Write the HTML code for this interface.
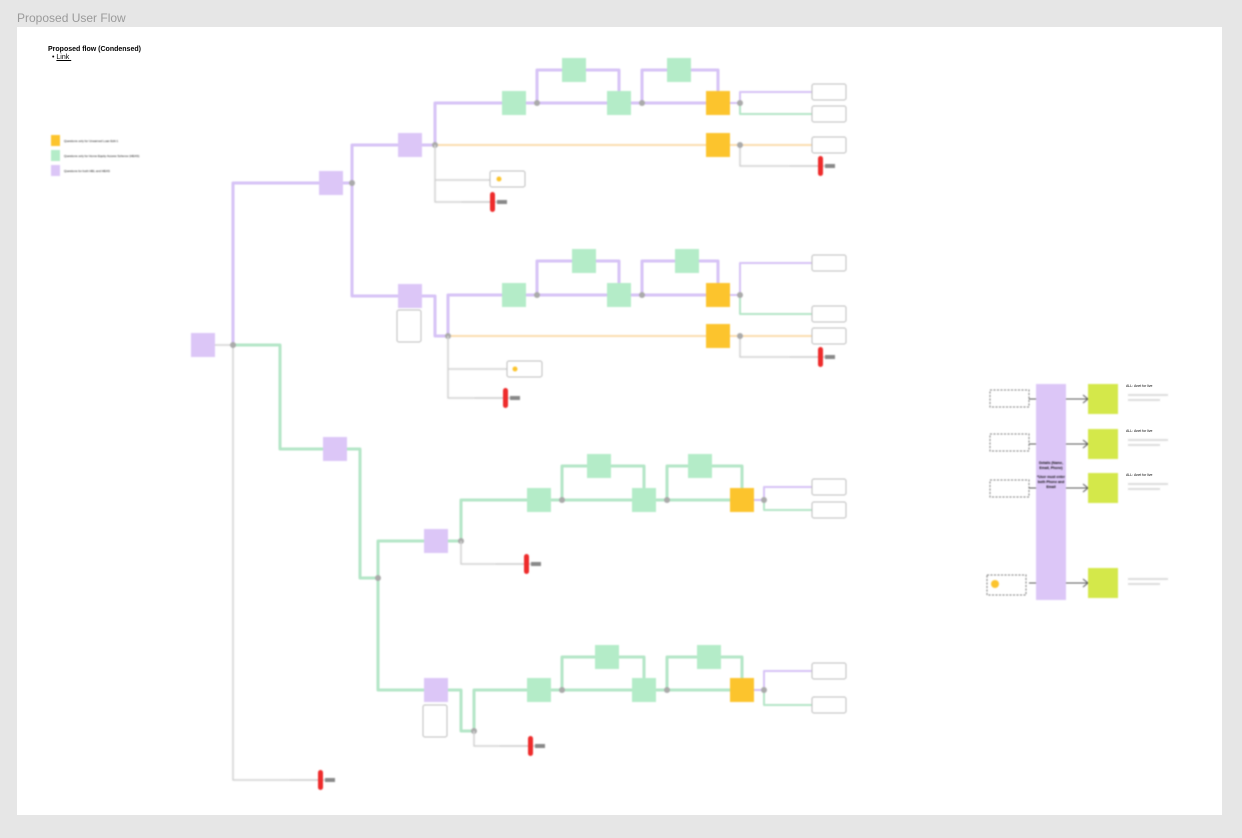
<!DOCTYPE html>
<html><head><meta charset="utf-8"><style>
html,body{margin:0;padding:0;background:#e6e6e6;width:1242px;height:838px;overflow:hidden;font-family:"Liberation Sans",sans-serif}
#title{position:absolute;left:17px;top:11px;font-size:12px;color:#9a9a9a}
#panel{position:absolute;left:17px;top:27px;width:1205px;height:788px;background:#fff}
svg{position:absolute;left:0;top:0;filter:blur(0.8px)}
.t{font-family:"Liberation Sans",sans-serif}
</style></head><body>
<div id="title">Proposed User Flow</div>
<div id="panel"></div>
<div style="position:absolute;left:48px;top:46px;font-size:7px;font-weight:bold">Proposed flow (Condensed)</div>
<div style="position:absolute;left:52px;top:54px;font-size:7px">•&nbsp;<u>Link&nbsp;</u></div>
<svg id="s" width="1242" height="838" xmlns="http://www.w3.org/2000/svg">
<rect x="51" y="135" width="9" height="11" fill="#fcc42d"/>
<rect x="51" y="150" width="9" height="11" fill="#b4ecc8"/>
<rect x="51" y="165" width="9" height="11" fill="#dcc6f7"/>
<text class="t" x="64" y="142" font-size="3">Questions only for Unearned Loan Edit 1</text>
<text class="t" x="64" y="157" font-size="3">Questions only for Home Equity Access Scheme (HEAS)</text>
<text class="t" x="64" y="172" font-size="3">Questions for both HEL and HEAS</text>
<g id="g"></g>
<rect x="1036" y="384" width="30" height="216" fill="#dcc6f7"/>
<text class="t" x="1051" y="464" font-size="3.5" text-anchor="middle" font-weight="bold">Details (Name,</text>
<text class="t" x="1051" y="469" font-size="3.5" text-anchor="middle" font-weight="bold">Email, Phone)</text>
<text class="t" x="1051" y="478" font-size="3.5" text-anchor="middle" font-weight="bold">*User must enter</text>
<text class="t" x="1051" y="483" font-size="3.5" text-anchor="middle" font-weight="bold">both Phone and</text>
<text class="t" x="1051" y="488" font-size="3.5" text-anchor="middle" font-weight="bold">Email</text>
</svg>
<script>
const g=document.getElementById('g');let h='';
const P='#d6c2f6',G='#b3e6c6',O='#fbdcae',Y='#fcc42d',GR='#d2d2d2';
function L(pts,c,w){h+=`<polyline points="${pts}" fill="none" stroke="${c}" stroke-width="${w||2.5}" stroke-linejoin="round"/>`;}
function R(x,y,c,w,hh){h+=`<rect x="${x}" y="${y}" width="${w||24}" height="${hh||24}" fill="${c}"/>`;}
function B(x,y,w,hh,st){h+=`<rect x="${x}" y="${y}" width="${w||34}" height="${hh||16}" rx="2" fill="#fff" stroke="${st||'#bbb'}" stroke-width="1"/>`;}
function D(x,y){h+=`<circle cx="${x}" cy="${y}" r="3" fill="#aaa"/>`;}
function X(x,y){L(`${x-30},${y} ${x+14},${y}`,GR,1.5);h+=`<rect x="${x-2}" y="${y-10}" width="5" height="20" rx="2.5" fill="#ee2b2b"/><rect x="${x+5}" y="${y-2}" width="10" height="4" fill="#888"/>`;}
// root
L('233,345 233,183 319,183',P,3);L('215,345 233,345',GR,1.5);L('233,345 233,780 318,780',GR,1.5);
L('233,345 280,345 280,449 323,449',G,3);
R(191,333,'#dcc6f7');D(233,345);X(320,780);
L('343,183 352,183 352,145 398,145',P,3);L('352,183 352,296 398,296',P,3);
R(319,171,'#dcc6f7');D(352,183);
function blk(o){
 const {sx,sy,jx,jy,my,ty,n,c,o1,o2,ox}=o;
 if(jy==sy) L(`${sx+24},${sy} ${jx},${sy}`,c,3);
 else L(`${sx+24},${sy} ${jx-13},${sy} ${jx-13},${jy} ${jx},${jy}`,c,3);
 L(`${jx},${jy} ${jx},${my} ${n[0]},${my}`,c,3);
 const [a,b,cc,d,y]=n;
 L(`${a+24},${my} ${y},${my}`,c,3);
 L(`${a+35},${my} ${a+35},${ty} ${b},${ty}`,c,3);L(`${b+24},${ty} ${cc+12},${ty} ${cc+12},${my-12}`,c,3);
 L(`${cc+35},${my} ${cc+35},${ty} ${d},${ty}`,c,3);L(`${d+24},${ty} ${y+12},${ty} ${y+12},${my-12}`,c,3);
 R(a,my-12,'#b4ecc8');R(b,ty-12,'#b4ecc8');R(cc,my-12,'#b4ecc8');R(d,ty-12,'#b4ecc8');R(y,my-12,Y);
 D(a+35,my);D(cc+35,my);
 const ex=y+34;
 L(`${y+24},${my} ${ex},${my} ${ex},${o1} 812,${o1}`,P,2);
 L(`${ex},${my} ${ex},${o2} 812,${o2}`,G,2);D(ex,my);
 B(812,o1-8);B(812,o2-8);
 if(ox){L(`${jx},${jy} 706,${jy}`,O,2);R(706,jy-12,Y);L(`730,${jy} 812,${jy}`,O,2);B(812,jy-8);
  L(`740,${jy} 740,${jy+21} 820,${jy+21}`,GR,1.5);X(820,jy+21);D(740,jy);}
 D(jx,jy);
 R(sx,sy-12,'#dcc6f7');
}
blk({sx:398,sy:145,jx:435,jy:145,my:103,ty:70,n:[502,562,607,667,706],c:P,o1:92,o2:114,ox:1});
L('435,145 435,202 490,202',GR,1.5);L('435,180 490,180',GR,1.5);B(490,171,35,16);h+='<circle cx="499" cy="179" r="2.5" fill="#fcc42d"/>';X(492,202);
blk({sx:398,sy:296,jx:448,jy:336,my:295,ty:261,n:[502,572,607,675,706],c:P,o1:263,o2:314,ox:1});
L('448,336 448,398 505,398',GR,1.5);L('448,369 507,369',GR,1.5);B(507,361,35,16);h+='<circle cx="515" cy="369" r="2.5" fill="#fcc42d"/>';X(505,398);
B(397,310,24,32);
// green branch
L('347,449 360,449 360,578 378,578',G,3);L('378,578 378,541 424,541',G,3);L('378,578 378,690 424,690',G,3);D(378,578);
R(323,437,'#dcc6f7');
blk({sx:424,sy:541,jx:461,jy:541,my:500,ty:466,n:[527,587,632,688,730],c:G,o1:487,o2:510});
L('461,541 461,564 524,564',GR,1.5);X(526,564);
blk({sx:424,sy:690,jx:474,jy:731,my:690,ty:657,n:[527,595,632,697,730],c:G,o1:671,o2:705});
L('474,731 474,746 528,746',GR,1.5);X(530,746);
B(423,705,24,32);
// right panel
const rp=[[990,390,384],[990,434,429],[990,480,473],[987,575,568]];
rp.forEach(([bx,by,ly],i)=>{h+=`<rect x="${bx}" y="${by}" width="39" height="${i==3?20:17}" fill="#fff" stroke="#777" stroke-dasharray="2,1.5"/>`;
 const cy=ly+15;L(`1029,${cy} 1088,${cy}`,'#555',1);L(`1083,${cy-4} 1088,${cy} 1083,${cy+4}`,'#555',1);
 h+=`<rect x="1088" y="${ly}" width="30" height="30" fill="#d4e84a"/>`;
 h+=`<rect x="1128" y="${ly+10}" width="40" height="2" fill="#ddd"/><rect x="1128" y="${ly+15}" width="32" height="2" fill="#ddd"/>`;});
h+='<circle cx="995" cy="584" r="4" fill="#fcc42d"/>';
g.innerHTML=h;
</script>
<div style="position:absolute;left:1126px;top:384px;font-size:3.5px">ALL: Anet for live</div>
<div style="position:absolute;left:1126px;top:429px;font-size:3.5px">ALL: Anet for live</div>
<div style="position:absolute;left:1126px;top:473px;font-size:3.5px">ALL: Anet for live</div>
</body></html>
